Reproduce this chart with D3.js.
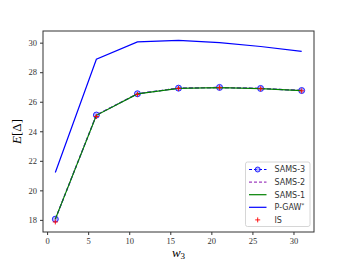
<!DOCTYPE html>
<html>
<head>
<meta charset="utf-8">
<script src="https://cdn.jsdelivr.net/npm/d3@7"></script>
<style>
  body { margin: 0; background: #fff; }
  .tick text { font-family: "Liberation Serif", serif; font-size: 8.5px; fill: #333; }
  .legend text { font-family: "DejaVu Sans", sans-serif; font-size: 8px; fill: #333; }
</style>
</head>
<body>
<div class="container"></div>
<script>
// values
const w3 = [1, 6, 11, 16, 21, 26, 31];
const sams3 = [18.05, 25.1, 26.54, 26.92, 26.97, 26.9, 26.76];
const sams2 = [18.05, 25.1, 26.54, 26.92, 26.97, 26.9, 26.76];
const sams1 = [18.05, 25.08, 26.53, 26.91, 26.96, 26.89, 26.75];
const pgaw = [21.21, 28.88, 30.05, 30.16, 30.0, 29.74, 29.41];
const is = [17.86, 25.0, 26.5, 26.9, 26.95, 26.88, 26.74];
const xTicks = [0, 5, 10, 15, 20, 25, 30];
const yTicks = [18, 20, 22, 24, 26, 28, 30];

const margin = { top: 31, right: 35, bottom: 30, left: 43 };
const width = 349 - margin.left - margin.right;
const height = 262 - margin.top - margin.bottom;

const svg = d3.select(".container")
  .append("svg")
  .attr("width", 349)
  .attr("height", 262);

const g = svg.append("g")
  .attr("transform", `translate(${margin.left}, ${margin.top})`);

const xScale = d3.scaleLinear().domain([-0.5, 32.5]).range([0, width]);
const yScale = d3.scaleLinear().domain([17.18, 30.79]).range([height, 0]);

const xAxis = d3.axisBottom(xScale).tickValues(xTicks).tickSize(3).tickPadding(3);
const yAxis = d3.axisLeft(yScale).tickValues(yTicks).tickSize(3).tickPadding(3);

g.append("g")
  .attr("transform", `translate(0, ${height})`)
  .call(xAxis)
  .call(s => s.select(".domain").remove())
  .selectAll("line").attr("stroke", "#333");

g.append("g")
  .call(yAxis)
  .call(s => s.select(".domain").remove())
  .selectAll("line").attr("stroke", "#333");

// frame
g.append("rect")
  .attr("width", width)
  .attr("height", height)
  .attr("fill", "none")
  .attr("stroke", "#333")
  .attr("stroke-width", 1);

const line = d3.line()
  .x((d, i) => xScale(w3[i]))
  .y(d => yScale(d));

// series in plotting order
g.append("path").datum(sams3)
  .attr("d", line).attr("fill", "none")
  .attr("stroke", "blue").attr("stroke-width", 1.2).attr("stroke-dasharray", "4,2");

g.selectAll(".m3").data(sams3).enter()
  .append("circle")
  .attr("cx", (d, i) => xScale(w3[i]))
  .attr("cy", d => yScale(d))
  .attr("r", 3)
  .attr("fill", "rgba(120,120,255,0.55)")
  .attr("stroke", "blue")
  .attr("stroke-width", 0.8);

g.append("path").datum(sams2)
  .attr("d", line).attr("fill", "none")
  .attr("stroke", "#a040c0").attr("stroke-width", 1.2).attr("stroke-dasharray", "4,2");

g.append("path").datum(sams1)
  .attr("d", line).attr("fill", "none")
  .attr("stroke", "green").attr("stroke-width", 1.2);

g.append("path").datum(pgaw)
  .attr("d", line).attr("fill", "none")
  .attr("stroke", "blue").attr("stroke-width", 1.2);

// IS as red plus markers
g.selectAll(".is").data(is).enter()
  .append("path")
  .attr("d", "M-2.5,0H2.5M0,-2.5V2.5")
  .attr("transform", (d, i) => `translate(${xScale(w3[i])}, ${yScale(d)})`)
  .attr("stroke", "red").attr("stroke-width", 0.9).attr("fill", "none");

// axis labels
svg.append("text")
  .attr("x", margin.left + xScale(16))
  .attr("y", 257)
  .attr("text-anchor", "middle")
  .style("font-family", "'Liberation Serif', serif")
  .style("font-style", "italic")
  .style("font-size", "13px")
  .html("w<tspan font-size='9px' font-style='normal' dy='2'>3</tspan>");

svg.append("text")
  .attr("transform", `translate(21, ${margin.top + height / 2}) rotate(-90)`)
  .attr("text-anchor", "middle")
  .style("font-family", "'Liberation Serif', serif")
  .style("font-size", "13px")
  .html("<tspan font-style='italic'>E</tspan>[Δ]");

// legend
const legendItems = [
  { label: "SAMS-3", color: "blue", dash: "3,2", marker: true },
  { label: "SAMS-2", color: "#a040c0", dash: "3,2" },
  { label: "SAMS-1", color: "green", dash: null },
  { label: "P-GAW", sup: "*", color: "blue", dash: null },
  { label: "IS", color: "red", plus: true }
];

const legend = svg.append("g").attr("class", "legend");
legend.append("rect")
  .attr("x", 245.5).attr("y", 162)
  .attr("width", 64.5).attr("height", 64.5)
  .attr("rx", 2)
  .attr("fill", "rgba(255,255,255,0.8)")
  .attr("stroke", "#ccc")
  .attr("stroke-width", 0.8);

const items = legend.selectAll(".item").data(legendItems).enter()
  .append("g")
  .attr("transform", (d, i) => `translate(0, ${169.5 + i * 12.6})`);

items.filter(d => !d.plus)
  .append("line")
  .attr("x1", 249).attr("x2", 266.5)
  .attr("stroke", d => d.color)
  .attr("stroke-width", 1.2)
  .attr("stroke-dasharray", d => d.dash);

items.filter(d => d.marker)
  .append("circle")
  .attr("cx", 257.7).attr("r", 2.5)
  .attr("fill", "rgba(120,120,255,0.55)")
  .attr("stroke", "blue").attr("stroke-width", 0.8);

items.filter(d => d.plus)
  .append("path")
  .attr("d", "M255.2,0H260.2M257.7,-2.5V2.5")
  .attr("stroke", "red").attr("stroke-width", 0.9);

const labels = items.append("text")
  .attr("x", 274.5)
  .attr("dy", "0.35em")
  .text(d => d.label);

labels.filter(d => d.sup)
  .append("tspan")
  .attr("font-size", "5.5px")
  .attr("dy", "-3")
  .text(d => d.sup);
</script>
</body>
</html>
